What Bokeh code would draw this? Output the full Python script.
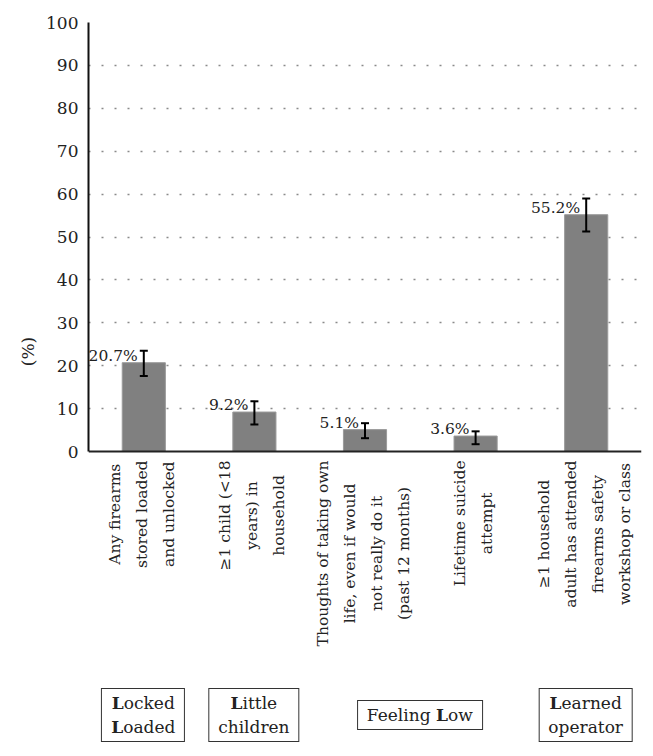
from bokeh.plotting import figure
from bokeh.models import (Range1d, FactorRange, Whisker, Span, Div,
                          ColumnDataSource, FixedTicker, TeeHead)
from bokeh.layouts import column
from bokeh.embed import file_html
from bokeh.resources import INLINE
from bokeh.core.properties import value

# ---------------- data ----------------
categories = [
    "Any firearms\nstored loaded\nand unlocked",
    "\u22651 child (<18\nyears) in\nhousehold",
    "Thoughts of taking own\nlife, even if would\nnot really do it\n(past 12 months)",
    "Lifetime suicide\nattempt",
    "\u22651 household\nadult has attended\nfirearms safety\nworkshop or class",
]
percent = [20.7, 9.2, 5.1, 3.6, 55.2]
ci_lower = [17.6, 6.3, 3.1, 1.7, 51.3]
ci_upper = [23.5, 11.7, 6.6, 4.7, 59.0]
value_labels = ["20.7%", "9.2%", "5.1%", "3.6%", "55.2%"]
y_ticks = [0, 10, 20, 30, 40, 50, 60, 70, 80, 90, 100]

# group boxes: first / last category index, html text
group_first = [0, 1, 2, 4]
group_last = [0, 1, 3, 4]
group_html = [
    "<b>L</b>ocked<br><b>L</b>oaded",
    "<b>L</b>ittle<br>children",
    "Feeling <b>L</b>ow",
    "<b>L</b>earned<br>operator",
]

FONT = "DejaVu Serif"
TEXT = "#222222"
LBL_PX = 15.5          # category label font size

# approximate DejaVu Serif advance widths (em) used to hang the rotated
# label blocks just below the baseline
_W = dict(zip(" ()<\u2265%.,", [.318, .39, .39, .838, .838, .947, .318, .318]))
_W.update({d: .636 for d in "0123456789"})
_W.update(dict(a=.596, b=.64, c=.56, d=.64, e=.592, f=.37, g=.64, h=.644,
               i=.32, k=.608, l=.32, m=.948, n=.644, o=.602, p=.64, r=.478,
               s=.513, t=.402, u=.644, w=.856, y=.565, v=.565, A=.722,
               L=.653, T=.669))


def text_w(line, px):
    return sum(_W.get(ch, .6) for ch in line) * px


# ---------------- layout constants ----------------
BL, BR, BT = 88, 4, 22
plot_px = 429          # height of the 0..100 part
label_px = 229         # room below the axis for rotated category labels
frame_w = 553
W = BL + frame_w + BR
H = BT + plot_px + label_px
y_start = -100.0 * label_px / plot_px
GAP = 9

label_off = [GAP + max(text_w(s, LBL_PX) for s in c.split("\n")) / 2
             for c in categories]

src = ColumnDataSource(dict(cat=categories, pct=percent, lo=ci_lower,
                            hi=ci_upper, lbl=value_labels, off=label_off))

p = figure(x_range=FactorRange(factors=categories),
           y_range=Range1d(y_start, 100),
           width=W, height=H, output_backend="svg", toolbar_location=None,
           title=None, min_border_left=BL, min_border_right=BR,
           min_border_top=BT, min_border_bottom=0)
p.outline_line_color = None
p.background_fill_color = "white"
p.border_fill_color = "white"
p.xaxis.visible = False

p.xgrid.visible = False
p.ygrid.ticker = FixedTicker(ticks=y_ticks[1:])
p.ygrid.grid_line_color = "#8a8a8a"
p.ygrid.grid_line_dash = "2 11"
p.ygrid.grid_line_width = 1.5

p.yaxis.bounds = (0, 100)
p.yaxis.ticker = FixedTicker(ticks=y_ticks)
p.yaxis.major_tick_line_color = None
p.yaxis.minor_tick_line_color = None
p.yaxis.axis_line_color = "#111111"
p.yaxis.axis_line_width = 2
p.yaxis.major_label_text_font = FONT
p.yaxis.major_label_text_font_size = "17px"
p.yaxis.major_label_text_color = TEXT
p.yaxis.major_label_standoff = 4
p.yaxis.axis_label = "(%)"
p.yaxis.axis_label_text_font = FONT
p.yaxis.axis_label_text_font_size = "17px"
p.yaxis.axis_label_text_font_style = "normal"
p.yaxis.axis_label_text_color = TEXT
p.yaxis.axis_label_standoff = 5

# baseline (x axis line)
p.add_layout(Span(location=0, dimension="width", line_color="#222222",
                  line_width=2))

p.vbar(x="cat", top="pct", bottom=0, width=0.39, source=src,
       fill_color="#808080", line_color="#9a9a9a", line_width=1)

head = dict(size=8, line_color="black", line_width=2)
p.add_layout(Whisker(base="cat", lower="lo", upper="hi", source=src,
                     line_color="black", line_width=2, level="annotation",
                     upper_head=TeeHead(**head), lower_head=TeeHead(**head)))

p.text(x="cat", y="pct", text="lbl", source=src, text_align="right",
       text_baseline="alphabetic", x_offset=-6, y_offset=-7,
       text_font=value(FONT), text_font_size="15.5px", text_color=TEXT)

# rotated, centred multi-line category labels hanging below the baseline
p.text(x="cat", y=0, text="cat", source=src, angle=90, angle_units="deg",
       text_align="center", text_baseline="middle", x_offset=-2,
       y_offset="off", text_font=value(FONT),
       text_font_size=f"{LBL_PX}px", text_line_height=1.5, text_color=TEXT)

# ---------------- group boxes (HTML for mixed bold) ----------------
cat_w = frame_w / len(categories)
boxes = []
for f, l, h in zip(group_first, group_last, group_html):
    cx = BL + ((f + l) / 2 + 0.5) * cat_w
    boxes.append(
        f'<div style="position:absolute;left:{cx:.1f}px;top:50%;'
        'transform:translate(-50%,-50%);border:1.5px solid #333;'
        'padding:2px 9px;line-height:24px;text-align:center;'
        f'white-space:nowrap;">{h}</div>')
div = Div(text=(f'<div style="position:relative;width:{W}px;height:70px;'
                f"font-family:'{FONT}';font-size:17px;color:{TEXT};\">"
                + "".join(boxes) + "</div>"),
          width=W, height=70, margin=(0, 0, 0, 0))

layout = column(p, div, spacing=0)
open("out.html", "w").write(file_html(layout, INLINE))
